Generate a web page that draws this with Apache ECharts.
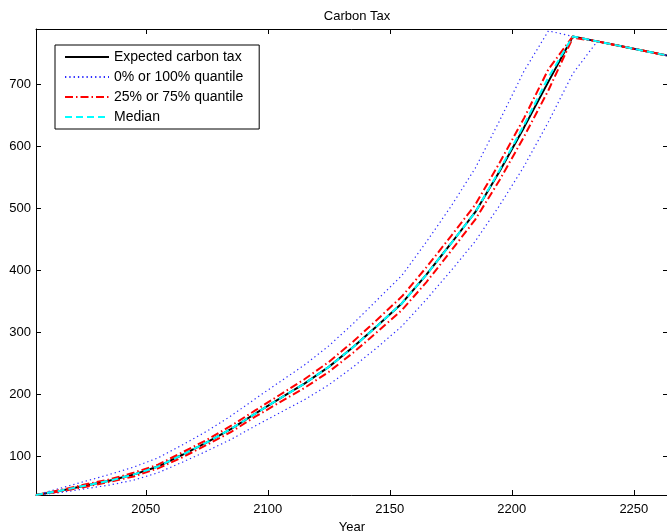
<!DOCTYPE html>
<html>
<head>
<meta charset="utf-8">
<script src="https://cdn.jsdelivr.net/npm/echarts@6/dist/echarts.min.js"></script>
<style>html,body{margin:0;padding:0;background:#fff}#c{width:667px;height:531px}</style>
</head>
<body>
<div id="c"></div>
<script>
// Years (x values)
const years = [2005,2015,2025,2035,2045,2055,2065,2075,2085,2095,2105,2115,2125,2135,2145,2155,2165,2175,2185,2195,2205,2215,2225,2235,2245,2255,2265];
// Expected carbon tax
const expected = [37,44,52,60,70,83,102,122,144,169,193,217,244,276,311,347,393,443,494,560,631,705,778,770,762,754,746];
// 0% quantile (lower) and 100% quantile (upper)
const q100 = [37,48,59,70,82,97,118,140,165,193,220,247,278,314,353,392,446,503,565,642,722,787,778,770,762,754,746];
const q0   = [37,41,47,53,61,73,90,108,127,149,170,191,215,244,276,310,353,399,447,505,568,640,718,770,762,754,746];
// 25% and 75% quantiles
const q75  = [37,45,54,62,73,86,106,126,149,174,199,224,252,285,321,358,405,455,506,574,646,725,778,770,762,754,746];
const q25  = [37,43,50,58,67,80,98,118,139,164,187,210,236,267,301,336,381,431,482,546,616,691,776,770,762,754,746];
// Median
const median = [37,44,52,60,70,83,102,122,144,169,193,217,244,276,311,347,393,443,494,562,635,712,778,770,762,754,746];
// Tick labels
const xTicks = [2050,2100,2150,2200,2250];
const yTicks = [100,200,300,400,500,600,700];

const pair = a => years.map((y,i)=>[y,a[i]]);
const font = 'Liberation Sans, Arial, Helvetica, sans-serif';

const axisCommon = {
  axisLine:{show:true,onZero:false,lineStyle:{color:'#000',width:1}},
  splitLine:{show:false}
};

const chart = echarts.init(document.getElementById('c'));
chart.setOption({
  animation:false,
  backgroundColor:'#fff',
  title:{text:'Carbon Tax',left:352,textAlign:'center',top:5,
    textStyle:{fontFamily:font,fontSize:13,fontWeight:'normal',color:'#000'}},
  grid:{left:36,right:-1,top:29,bottom:36,outerBoundsMode:'none',containLabel:false},
  legend:{
    orient:'vertical',left:55,top:45,
    padding:[5,16,5,9],itemGap:6,itemWidth:44,itemHeight:14,
    borderColor:'#000',borderWidth:1,backgroundColor:'#fff',
    itemStyle:{opacity:0},
    textStyle:{fontFamily:font,fontSize:14,color:'#000'},
    data:['Expected carbon tax','0% or 100% quantile','25% or 75% quantile','Median']
  },
  xAxis:[
    Object.assign({type:'value',position:'bottom',min:2005,max:2264,
      axisTick:{show:true,inside:true,length:5,lineStyle:{color:'#000'},customValues:xTicks},
      axisLabel:{margin:8,fontFamily:font,fontSize:13,color:'#000',customValues:xTicks,formatter:v=>String(v)},
      name:'Year',nameLocation:'middle',nameGap:24,
      nameTextStyle:{fontFamily:font,fontSize:13,color:'#000'}},axisCommon),
    Object.assign({type:'value',position:'top',min:2005,max:2264,
      axisTick:{show:true,inside:true,length:5,lineStyle:{color:'#000'},customValues:xTicks},
      axisLabel:{show:false}},axisCommon)
  ],
  yAxis:[
    Object.assign({type:'value',position:'left',min:37,max:790,
      axisTick:{show:true,inside:true,length:5,lineStyle:{color:'#000'},customValues:yTicks},
      axisLabel:{margin:5,fontFamily:font,fontSize:13,color:'#000',customValues:yTicks,formatter:v=>String(v)}},axisCommon),
    Object.assign({type:'value',position:'right',min:37,max:790,
      axisTick:{show:true,inside:true,length:5,lineStyle:{color:'#000'},customValues:yTicks},
      axisLabel:{show:false}},axisCommon)
  ],
  series:[
    {name:'Expected carbon tax',type:'line',symbol:'none',data:pair(expected),
      lineStyle:{color:'#000',width:2},itemStyle:{color:'#000'}},
    {name:'0% or 100% quantile',type:'line',symbol:'none',data:pair(q100),
      lineStyle:{color:'#2a2aff',width:1.2,type:[1.3,3]},itemStyle:{color:'#2a2aff'}},
    {name:'0% or 100% quantile',type:'line',symbol:'none',data:pair(q0),
      lineStyle:{color:'#2a2aff',width:1.2,type:[1.3,3]},itemStyle:{color:'#2a2aff'}},
    {name:'25% or 75% quantile',type:'line',symbol:'none',data:pair(q75),
      lineStyle:{color:'#ff0000',width:2,type:[8,3,1.5,3]},itemStyle:{color:'#ff0000'}},
    {name:'25% or 75% quantile',type:'line',symbol:'none',data:pair(q25),
      lineStyle:{color:'#ff0000',width:2,type:[8,3,1.5,3]},itemStyle:{color:'#ff0000'}},
    {name:'Median',type:'line',symbol:'none',data:pair(median),
      lineStyle:{color:'#00ffff',width:2,type:[7,4]},itemStyle:{color:'#00ffff'}}
  ]
});
</script>
</body>
</html>
